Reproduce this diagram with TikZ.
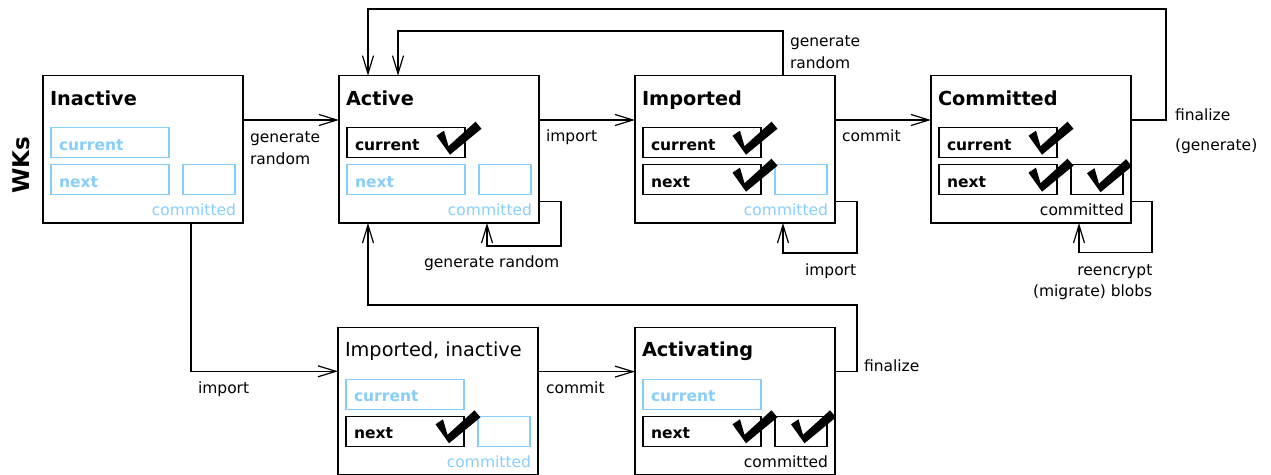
\documentclass[tikz,border=0pt]{standalone}
\usepackage{fontspec}
\setmainfont{DejaVu Sans}
\usetikzlibrary{arrows.meta}
\definecolor{skyb}{RGB}{135,206,250}

% one key state: name, left, top, title, colours of current / next / committed
\newcommand\wkstate[7]{%
  \node[statebox] (#1) at (#2,#3) {};
  \node[titletext] (#1-title) at (#2+7,#3+29.3) {#4};
  \node[keyslot,draw=#5,text=#5] (#1-cur) at (#2+8,#3+52) {current};
  \node[keyslot,draw=#6,text=#6] (#1-next) at (#2+8,#3+89) {next};
  \node[slot,draw=#7,minimum width=52pt] (#1-comm) at (#2+140,#3+89) {};
  \node[commlabel,text=#7] (#1-clabel) at (#2+193,#3+140) {committed};
}

\begin{document}
\begin{tikzpicture}[x=1pt,y=-1pt,
  every node/.style={inner sep=0pt, outer sep=0pt,
    font=\fontsize{15.5pt}{21.7pt}\selectfont},
  statebox/.style={draw, line width=1.2pt, minimum width=200pt,
    minimum height=147.3pt, anchor=north west},
  titletext/.style={anchor=base west,
    font=\fontsize{19.3pt}{22pt}\selectfont\bfseries},
  slot/.style={draw, line width=1.2pt, minimum height=30pt, anchor=north west},
  keyslot/.style={slot, text width=102pt, inner xsep=8pt, text height=14.6pt,
    text depth=0pt, align=left,
    font=\fontsize{15.5pt}{18pt}\selectfont\bfseries},
  commlabel/.style={anchor=base east},
  elabel/.style={anchor=base west, align=left},
  conn/.style={line width=1.2pt, -{Straight Barb[length=18pt,width=11pt]}},
  tick/.pic={\fill (0,0) -- (-13.5,-19) -- (-6,-24) -- (-1.5,-8.5)
    -- (25.5,-33) -- (31.5,-26) -- cycle;}]
\clip (0,0) rectangle (1271,474);

\node[rotate=90, font=\fontsize{23pt}{26pt}\selectfont\bfseries] (wks) at (21,165) {WKs};

% states
\wkstate{inact}{43}{75.7}{Inactive}{skyb}{skyb}{skyb}
\wkstate{act}{339}{75.7}{Active}{black}{skyb}{skyb}
\wkstate{imp}{635}{75.7}{Imported}{black}{black}{skyb}
\wkstate{comm}{931}{75.7}{Committed}{black}{black}{black}
\wkstate{impin}{338}{327.3}{\mdseries Imported, inactive}{skyb}{black}{skyb}
\wkstate{actv}{635}{327.3}{Activating}{skyb}{black}{black}

% keys that are present
\pic at ([shift={(103,27)}]act-cur.north west) {tick};
\pic at ([shift={(103,27)}]imp-cur.north west) {tick};
\pic at ([shift={(103,27)}]imp-next.north west) {tick};
\pic at ([shift={(103,27)}]comm-cur.north west) {tick};
\pic at ([shift={(103,27)}]comm-next.north west) {tick};
\pic at ([shift={(29.5,27.5)}]comm-comm.north west) {tick};
\pic at ([shift={(103,27)}]impin-next.north west) {tick};
\pic at ([shift={(103,27)}]actv-next.north west) {tick};
\pic at ([shift={(29.5,27)}]actv-comm.north west) {tick};

% bend points
\coordinate (gA) at (783,31);
\coordinate (gB) at (398,31);
\coordinate (fC) at (1166,120);
\coordinate (fA) at (1166,9);
\coordinate (fB) at (368,9);
\coordinate (lA) at (561,246);
\coordinate (lI) at (857,253);
\coordinate (lC) at (1152,252.3);
\coordinate (iA) at (191,371.3);
\coordinate (fD) at (857,371.3);
\coordinate (fE) at (857,305);
\coordinate (fF) at (368,305);

% transitions
\draw[conn] ([yshift=-44.3pt]inact.north east) -- ([yshift=-44.3pt]act.north west);
\draw[conn] ([yshift=-44.3pt]act.north east) -- ([yshift=-44.3pt]imp.north west);
\draw[conn] ([yshift=-44.3pt]imp.north east) -- ([yshift=-44.3pt]comm.north west);
\draw[conn] (comm.east |- fC) -- (fC) -- (fA) -- (fB) -- (act.north -| fB);
\draw[conn] (imp.north -| gA) -- (gA) -- (gB) -- (act.north -| gB);
\draw[conn] ([yshift=-126pt]act.north east) -| (lA) -| ([xshift=148pt]act.south west);
\draw[conn] ([yshift=-126pt]imp.north east) -| (lI) -| ([xshift=148pt]imp.south west);
\draw[conn] ([yshift=-126pt]comm.north east) -| (lC) -| ([xshift=148pt]comm.south west);
\draw[conn] (inact.south -| iA) -- (iA) -- (impin.west |- iA);
\draw[conn] ([yshift=-44.3pt]impin.north east) -- ([yshift=-44.3pt]actv.north west);
\draw[conn] (actv.east |- fD) -- (fD) -- (fE) -- (fF) -- (act.south -| fF);

% transition labels (a multi-line label sits on its last baseline)
\node[elabel] (l-gen1) at (250,164) {generate\\random};
\node[elabel] (l-imp1) at (546,141.5) {import};
\node[elabel] (l-com1) at (842,141.5) {commit};
\node[elabel] (l-fin1) at (1175,150) {finalize\\[8pt](generate)};
\node[elabel] (l-gen2) at (790,68) {generate\\random};
\node[elabel, anchor=base] (l-gen3) at (491.7,267.3) {generate random};
\node[elabel] (l-imp2) at (805,275) {import};
\node[elabel, anchor=base east, align=right] (l-reenc) at (1152.3,296.7) {reencrypt\\(migrate) blobs};
\node[elabel] (l-imp3) at (198,393.3) {import};
\node[elabel] (l-com2) at (546,393) {commit};
\node[elabel] (l-fin2) at (864,371.7) {finalize};
\end{tikzpicture}
\end{document}
